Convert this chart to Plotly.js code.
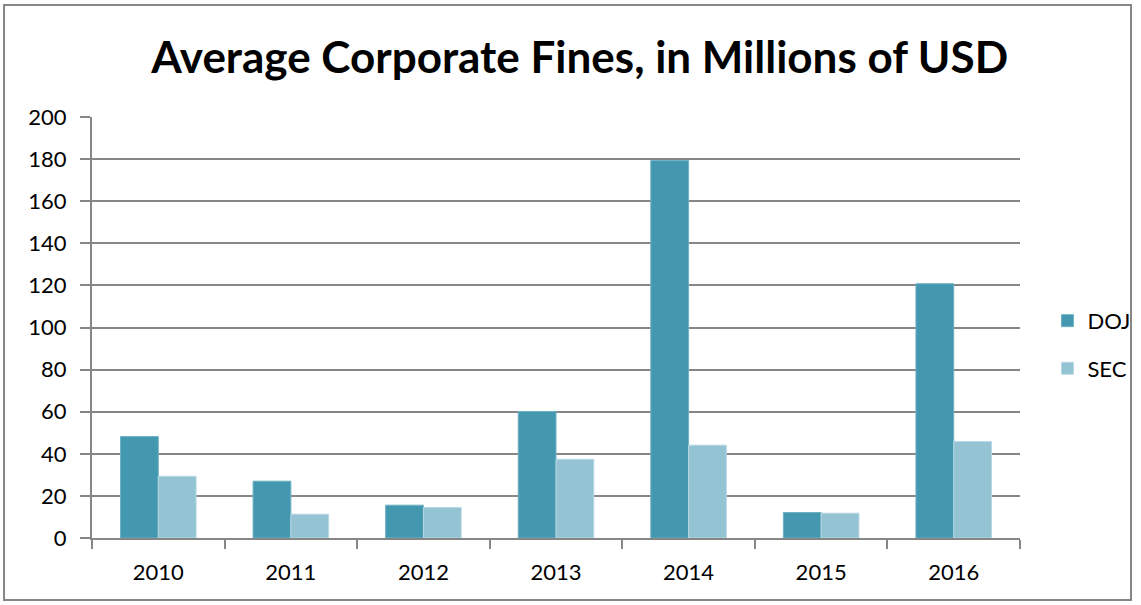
<!DOCTYPE html>
<html>
<head>
<meta charset="utf-8">
<script src="https://cdn.plot.ly/plotly-3.0.1.min.js"></script>
<style>
  html, body { margin: 0; padding: 0; background: #fff; }
  #chart { width: 1141px; height: 605px; }
</style>
</head>
<body>
<div id="chart"></div>
<script>
// Average corporate fines per year, millions of USD
const years = ['2010', '2011', '2012', '2013', '2014', '2015', '2016'];
const dojFines = [48.2, 27, 15.6, 60.1, 179.3, 12.1, 120.8];
const secFines = [29.3, 11.3, 14.5, 37.4, 44.1, 11.8, 45.8];
const yTicks = [0, 20, 40, 60, 80, 100, 120, 140, 160, 180, 200];

const FONT = 'Lato, "Open Sans", sans-serif';
const GRID = '#868686';

const traces = [
  {
    type: 'bar', name: 'DOJ', x: years, y: dojFines, legendgroup: 'doj',
    marker: { color: '#4398B0', line: { color: '#6FB2C4', width: 1 } },
    hoverinfo: 'x+y+name'
  },
  {
    type: 'bar', name: 'SEC', x: years, y: secFines, legendgroup: 'sec',
    marker: { color: '#94C3D4', line: { color: '#B7D8E3', width: 1 } },
    hoverinfo: 'x+y+name'
  }
];

const layout = {
  width: 1141, height: 605,
  margin: { l: 92, r: 121, t: 117, b: 67 },
  paper_bgcolor: '#ffffff', plot_bgcolor: '#ffffff',
  font: { family: FONT, size: 22, color: '#000' },
  title: {
    text: '<b>Average Corporate Fines, in Millions of USD</b>',
    font: { family: FONT, size: 44, color: '#000' },
    xref: 'container', x: 0.508, xanchor: 'center',
    yref: 'container', y: 0.905, yanchor: 'middle'
  },
  barmode: 'group', bargap: 0.43, bargroupgap: 0,
  xaxis: {
    type: 'category',
    showgrid: false,
    showline: true, linecolor: GRID, linewidth: 2,
    ticks: 'outside', tickson: 'boundaries', ticklen: 9, tickwidth: 2, tickcolor: GRID,
    ticklabelstandoff: 14,
    tickfont: { family: FONT, size: 22 },
    fixedrange: true
  },
  yaxis: {
    range: [0, 200], tickvals: yTicks,
    showgrid: true, gridcolor: GRID, gridwidth: 2,
    showline: true, linecolor: GRID, linewidth: 2,
    ticks: 'outside', ticklen: 10, tickwidth: 2, tickcolor: GRID,
    ticklabelstandoff: 9,
    tickfont: { family: FONT, size: 22 },
    zeroline: false,
    fixedrange: true
  },
  legend: {
    xref: 'container', yref: 'container',
    x: 0.918, xanchor: 'left', y: 0.43, yanchor: 'middle',
    font: { family: FONT, size: 22 },
    traceorder: 'grouped', tracegroupgap: 16, itemwidth: 30,
    bgcolor: 'rgba(0,0,0,0)'
  },
  shapes: [
    {
      type: 'rect', xref: 'paper', yref: 'paper',
      x0: -0.0948, x1: 1.1196, y0: -0.147, y1: 1.266,
      line: { color: '#868686', width: 2 }, fillcolor: 'rgba(0,0,0,0)', layer: 'below'
    }
  ],
  showlegend: true
};

Plotly.newPlot('chart', traces, layout, { displayModeBar: false, staticPlot: true });
</script>
</body>
</html>
